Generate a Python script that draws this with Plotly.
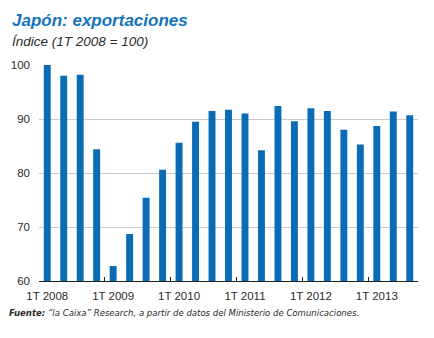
import plotly.graph_objects as go

quarters = ["1T 2008", "2T 2008", "3T 2008", "4T 2008",
            "1T 2009", "2T 2009", "3T 2009", "4T 2009",
            "1T 2010", "2T 2010", "3T 2010", "4T 2010",
            "1T 2011", "2T 2011", "3T 2011", "4T 2011",
            "1T 2012", "2T 2012", "3T 2012", "4T 2012",
            "1T 2013", "2T 2013", "3T 2013"]
exports_index = [100, 98, 98.2, 84.4,
                 62.8, 68.7, 75.4, 80.6,
                 85.6, 89.5, 91.5, 91.7,
                 91.0, 84.2, 92.4, 89.6,
                 92.0, 91.5, 88.0, 85.3,
                 88.7, 91.4, 90.7]
year_labels = ["1T 2008", "1T 2009", "1T 2010", "1T 2011", "1T 2012", "1T 2013"]
y_ticks = [60, 70, 80, 90, 100]

BLUE = "#0a6cb4"
TEXT = "#2b2b2b"

x_idx = list(range(len(quarters)))
label_pos = [quarters.index(l) for l in year_labels]
boundary_pos = [p - 0.5 for p in label_pos[1:]]

fig = go.Figure(go.Bar(x=x_idx, y=exports_index, marker_color=BLUE,
                       marker_line_width=0, hovertext=quarters))

fig.update_layout(
    width=434, height=338,
    margin=dict(l=39, r=16, t=65, b=57),
    paper_bgcolor="white", plot_bgcolor="white",
    bargap=0.58, showlegend=False,
    font=dict(family="Liberation Sans, Arial, sans-serif", size=11.5, color=TEXT),
)
fig.update_xaxes(
    range=[-0.5, len(quarters) - 0.5],
    tickmode="array", tickvals=label_pos, ticktext=year_labels,
    ticks="", showgrid=False, zeroline=False,
    showline=True, linecolor="#222222", linewidth=1.3,
    tickfont=dict(size=11.5, color=TEXT),
    minor=dict(tickmode="array", tickvals=boundary_pos, ticks="inside",
               ticklen=4, tickwidth=1, tickcolor="#222222", showgrid=False),
    ticklabelstandoff=4,
)
fig.update_yaxes(
    range=[60, 100], tickmode="array", tickvals=y_ticks,
    showgrid=True, gridcolor="#c9c9c9", gridwidth=1,
    zeroline=False, showline=False, ticks="",
    tickfont=dict(size=11.5, color=TEXT),
    ticklabelstandoff=8,
)

fig.add_annotation(xref="paper", yref="paper", x=-0.077, y=1.208,
                   xanchor="left", yanchor="middle", showarrow=False,
                   text="<b><i>Japón: exportaciones</i></b>",
                   font=dict(size=17, color="#1573bb"))
fig.add_annotation(xref="paper", yref="paper", x=-0.077, y=1.108,
                   xanchor="left", yanchor="middle", showarrow=False,
                   text="<i>Índice (1T 2008 = 100)</i>",
                   font=dict(size=13.5, color=TEXT))
fig.add_annotation(xref="paper", yref="paper", x=-0.085, y=-0.148,
                   xanchor="left", yanchor="middle", showarrow=False,
                   text="<b><i>Fuente:</i></b><i> “la Caixa” Research, a partir de datos del Ministerio de Comunicaciones.</i>",
                   font=dict(family="Liberation Sans Narrow, DejaVu Sans Condensed, Arial Narrow, sans-serif",
                             size=9.5, color=TEXT))

fig.write_html("out.html")
